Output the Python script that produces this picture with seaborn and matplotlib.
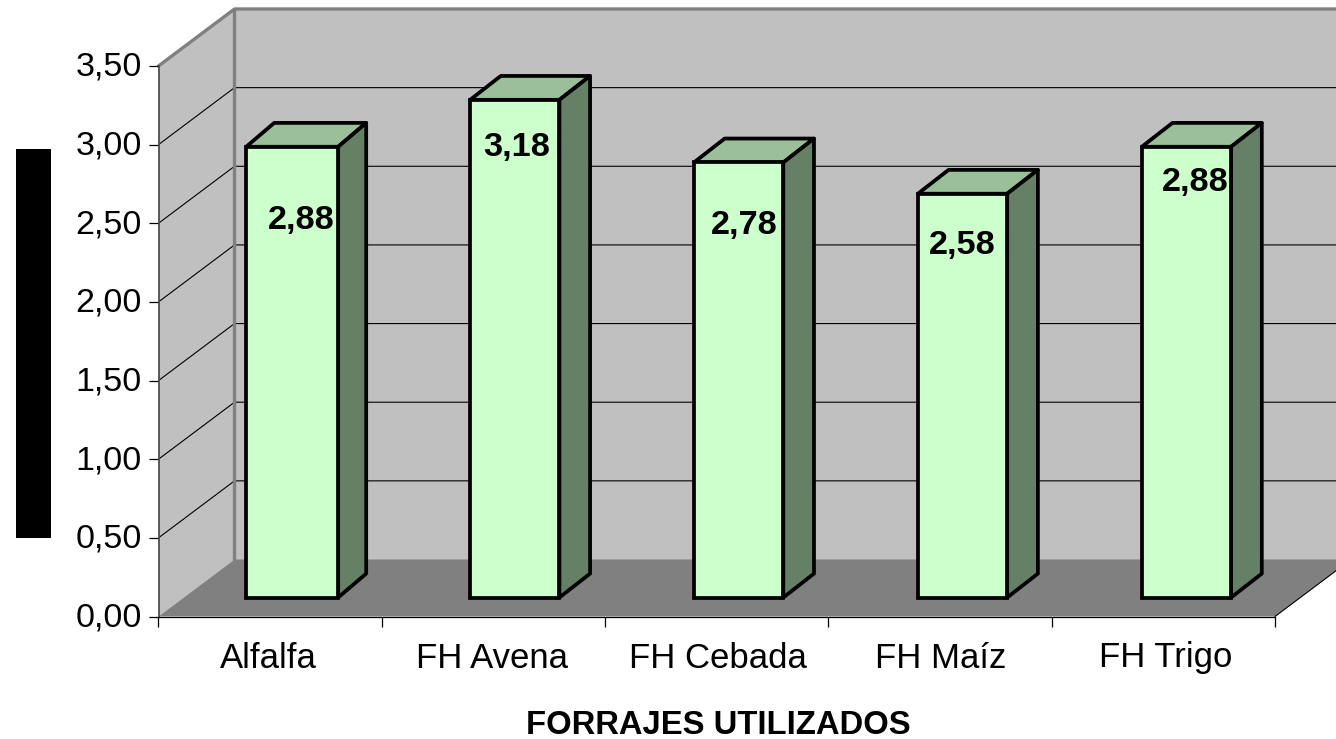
import matplotlib
matplotlib.use('Agg')
import matplotlib.pyplot as plt
from matplotlib.patches import Polygon, Rectangle
from matplotlib.transforms import Affine2D
import seaborn as sns

# Values
forrajes = ['Alfalfa', 'FH Avena', 'FH Cebada', 'FH Maíz', 'FH Trigo']
valores = [2.88, 3.18, 2.78, 2.58, 2.88]
y_ticks = [0, 0.5, 1, 1.5, 2, 2.5, 3, 3.5]
y_labels = ['0,00', '0,50', '1,00', '1,50', '2,00', '2,50', '3,00', '3,50']
x_title = 'FORRAJES UTILIZADOS'

W, H = 1336, 739
sns.set_theme(style='white')
plt.rcParams['font.family'] = ['Liberation Sans', 'DejaVu Sans']

fig = plt.figure(figsize=(W / 100, H / 100), dpi=100)
# front plane of the 3D box, in pixels: x 158.5..1275, y 616.5..66
ax = fig.add_axes([158.5 / W, 1 - 616.5 / H, 1116.5 / W, 550.5 / H])
ax.patch.set_visible(False)

sns.barplot(x=forrajes, y=valores, color='#CCFFCC', saturation=1, width=0.40,
            edgecolor='black', linewidth=2.7, ax=ax, zorder=3)
ax.set_xlim(-0.5, 4.5)
ax.set_ylim(0, 3.5)

# pixel -> data units
ux = 5 / 1116.5
uy = 3.5 / 550.5
depth_x, depth_y = 76 * ux, 57 * uy

# walls and floor
wall_kw = dict(clip_on=False, linewidth=0)
ax.add_patch(Polygon([(-0.5, 0), (-0.5 + depth_x, depth_y), (-0.5 + depth_x, 3.5 + depth_y), (-0.5, 3.5)],
                     facecolor='#C0C0C0', zorder=0.1, **wall_kw))
ax.add_patch(Polygon([(-0.5 + depth_x, depth_y), (4.5 + depth_x, depth_y), (4.5 + depth_x, 3.5 + depth_y), (-0.5 + depth_x, 3.5 + depth_y)],
                     facecolor='#C0C0C0', zorder=0.1, **wall_kw))
ax.add_patch(Polygon([(-0.5, 0), (4.5, 0), (4.5 + depth_x, depth_y), (-0.5 + depth_x, depth_y)],
                     facecolor='#808080', zorder=0.2, **wall_kw))

# gridlines on side and back wall
for t in y_ticks[1:-1]:
    ax.plot([-0.5, -0.5 + depth_x, 4.5 + depth_x], [t, t + depth_y, t + depth_y],
            color='black', linewidth=0.8, clip_on=False, zorder=0.3)

# gray frame of the walls
ax.plot([-0.5, -0.5 + depth_x, 4.5 + depth_x], [3.5, 3.5 + depth_y, 3.5 + depth_y],
        color='#808080', linewidth=2.4, clip_on=False, zorder=0.4)
ax.plot([-0.5 + depth_x, -0.5 + depth_x], [depth_y, 3.5 + depth_y],
        color='#808080', linewidth=2.4, clip_on=False, zorder=0.4)
ax.plot([4.5, 4.5 + depth_x], [0, depth_y], color='black', linewidth=0.8, clip_on=False, zorder=0.4)

# bars sit a bit behind the front plane, depth faces drawn from the bar patches
bar_bottom = H - 616.5
line_kw = dict(edgecolor='black', linewidth=2.7, joinstyle='round', zorder=2)
bars = [p for p in ax.patches if isinstance(p, Rectangle)]
bars[0].set_width(0.412)  # first bar is a little wider in the original
bd_y = 24 * uy
for i, p in enumerate(bars):
    x0, w, h = p.get_x(), p.get_width(), p.get_height()
    # bars step slightly wider than the axis ticks, and run a touch short of the scale
    shift = Affine2D().translate(0, -bar_bottom).scale(1, 0.995).translate(20.7 + 0.6 * i, bar_bottom + 19)
    bd_x = 120 * ux - w
    p.set_transform(ax.transData + shift)
    p.set_clip_on(False)
    p.set_joinstyle('miter')
    ax.add_patch(Polygon([(x0, h), (x0 + w, h), (x0 + w + bd_x, h + bd_y), (x0 + bd_x, h + bd_y)],
                         facecolor='#9ABF99', transform=ax.transData + shift, clip_on=False, **line_kw))
    ax.add_patch(Polygon([(x0 + w, 0), (x0 + w + bd_x, bd_y), (x0 + w + bd_x, h + bd_y), (x0 + w, h)],
                         facecolor='#668066', transform=ax.transData + shift, clip_on=False, **line_kw))

# value labels keep the hand placed spots of the original
label_off = [(31.4, -56.6), (23.2, -30.7), (27, -45.8), (21.8, -34.3), (31.6, -18.6)]
for i, (v, off) in enumerate(zip(valores, label_off)):
    ax.annotate(f'{v:.2f}'.replace('.', ','), (i, v), xytext=off, textcoords='offset pixels',
                ha='center', va='center', fontsize=24.7, fontweight='bold', color='black',
                zorder=5, annotation_clip=False)

# axes
for s in ['top', 'right']:
    ax.spines[s].set_visible(False)
ax.spines['bottom'].set_color('black')
ax.spines['bottom'].set_linewidth(0.9)
ax.spines['left'].set_color('#505050')
ax.spines['left'].set_linewidth(1.3)
ax.spines['left'].set_zorder(1)
ax.spines['bottom'].set_zorder(1)
ax.set_yticks(y_ticks)
ax.set_yticklabels(y_labels, fontsize=24.5, color='black')
ax.tick_params(axis='y', direction='out', length=7, width=0.9, color='black', pad=5, left=True)
for lab in ax.get_yticklabels():
    lab.set_transform(lab.get_transform() + Affine2D().translate(0, 2))
ax.set_xticks([-0.5, 0.5, 1.5, 2.5, 3.5, 4.5])
ax.set_xticklabels([])
ax.tick_params(axis='x', direction='out', length=7, width=0.9, color='black', bottom=True)
ax.set_xlabel('')
ax.set_ylabel('')
name_off = [-2, -1, 1, 1, 2]
for i, name in enumerate(forrajes):
    ax.annotate(name, (i, 0), xytext=(name_off[i], -41.5), textcoords='offset pixels', ha='center', va='center',
                fontsize=25, color='black', annotation_clip=False)

fig.text(718.5 / W, 1 - 725 / H, x_title, ha='center', va='center', fontsize=23.6, fontweight='bold', color='black')

# black block where the y axis title is hidden
fig.add_artist(Rectangle((16 / W, 1 - 538 / H), 35 / W, 389 / H, transform=fig.transFigure,
                         facecolor='black', edgecolor='none'))

fig.savefig('out.png', dpi=100, facecolor='white')
